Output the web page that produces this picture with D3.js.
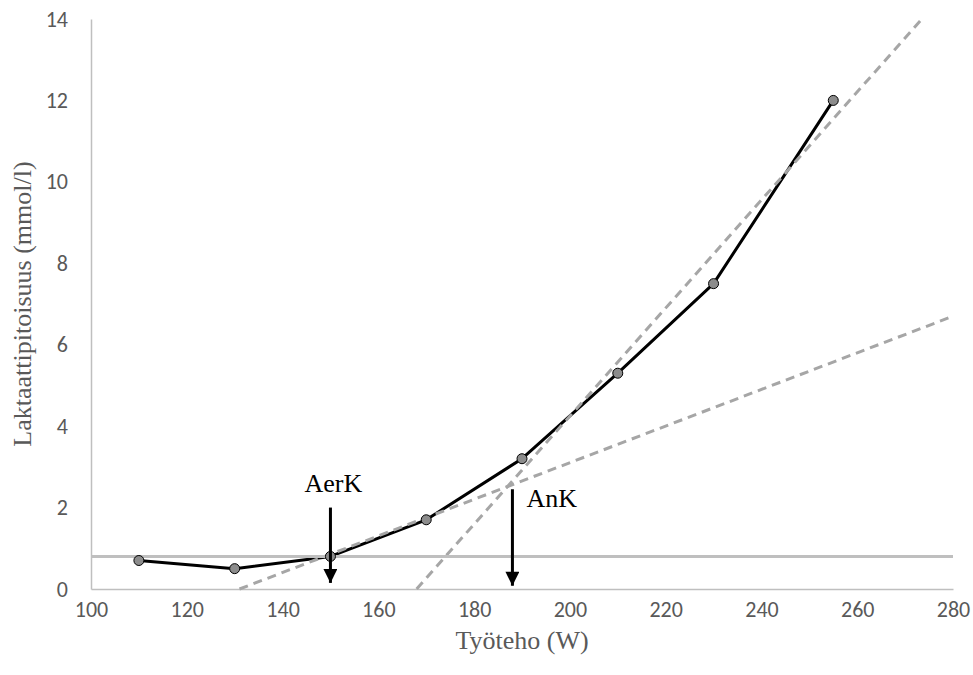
<!DOCTYPE html>
<html>
<head>
<meta charset="utf-8">
<script src="https://cdn.jsdelivr.net/npm/d3@7"></script>
<style>
body { margin: 0; background: #fff; }
svg { display: block; }
</style>
</head>
<body>
<script>
// measured lactate curve
var power = [110, 130, 150, 170, 190, 210, 230, 255];
var lactate = [0.7, 0.5, 0.8, 1.7, 3.2, 5.3, 7.5, 12];

// baseline level and the two fitted trend lines (endpoints)
var baseline = 0.8;
var aerLine = [[131, 0], [280, 6.7]];
var anLine = [[168, 0], [273.5, 14]];

// threshold arrows: x, top value, bottom value, label
var thresholds = [
    {name: 'AerK', x: 150, top: 2.0, bottom: 0.15},
    {name: 'AnK', x: 188, top: 2.45, bottom: 0.08}
];

var xTicks = [100, 120, 140, 160, 180, 200, 220, 240, 260, 280];
var yTicks = [0, 2, 4, 6, 8, 10, 12, 14];

var width = 973,
    height = 675;

var svg = d3.select('body').append('svg')
    .attr('width', width)
    .attr('height', height);

var x = d3.scaleLinear().domain([100, 280]).range([91, 953]);
var y = d3.scaleLinear().domain([0, 14]).range([589, 19]);

var gray = '#bfbfbf';
var textGray = '#595959';
var serif = '"Liberation Serif", "DejaVu Serif", serif';

// axes
var xAxis = svg.append('g')
    .attr('transform', 'translate(0,' + y(0) + ')')
    .call(d3.axisBottom(x).tickValues(xTicks).tickSize(0).tickPadding(12));
var yAxis = svg.append('g')
    .attr('transform', 'translate(' + x(100) + ',0)')
    .call(d3.axisLeft(y).tickValues(yTicks).tickSize(0).tickPadding(23));

[xAxis, yAxis].forEach(function (g) {
    g.select('.domain').attr('stroke', gray).attr('stroke-width', 1.5);
    g.selectAll('text')
        .attr('fill', textGray)
        .style('font-family', 'Carlito, "Open Sans", sans-serif')
        .style('font-size', '22px');
});

// axis titles
svg.append('text')
    .attr('x', (x(100) + x(280)) / 2)
    .attr('y', 649)
    .attr('text-anchor', 'middle')
    .attr('fill', textGray)
    .style('font-family', serif)
    .style('font-size', '26px')
    .text('Työteho (W)');

svg.append('text')
    .attr('transform', 'translate(31,' + 304 + ') rotate(-90)')
    .attr('text-anchor', 'middle')
    .attr('fill', textGray)
    .style('font-family', serif)
    .style('font-size', '26px')
    .text('Laktaattipitoisuus (mmol/l)');

var line = d3.line()
    .x(function (d) { return x(d[0]); })
    .y(function (d) { return y(d[1]); });

var pts = power.map(function (p, i) { return [p, lactate[i]]; });

// measured curve
svg.append('path')
    .attr('d', line(pts))
    .attr('fill', 'none')
    .attr('stroke', '#000')
    .attr('stroke-width', 3)
    .attr('stroke-linejoin', 'round');

// trend lines
[aerLine, anLine].forEach(function (l) {
    svg.append('path')
        .attr('d', line(l))
        .attr('fill', 'none')
        .attr('stroke', '#a6a6a6')
        .attr('stroke-width', 3)
        .attr('stroke-dasharray', '9,6');
});

// baseline
svg.append('line')
    .attr('x1', x(100)).attr('x2', x(280))
    .attr('y1', y(baseline)).attr('y2', y(baseline))
    .attr('stroke', gray)
    .attr('stroke-width', 3);

// markers
svg.selectAll('circle').data(pts).enter().append('circle')
    .attr('cx', function (d) { return x(d[0]); })
    .attr('cy', function (d) { return y(d[1]); })
    .attr('r', 5)
    .attr('fill', '#8c8c8c')
    .attr('stroke', '#000')
    .attr('stroke-width', 1);

// arrows
svg.append('defs').append('marker')
    .attr('id', 'head')
    .attr('viewBox', '0 0 10 10')
    .attr('refX', 10).attr('refY', 5)
    .attr('markerUnits', 'userSpaceOnUse')
    .attr('markerWidth', 16).attr('markerHeight', 14)
    .attr('orient', 'auto')
    .append('path')
    .attr('d', 'M0,0L10,5L0,10Z')
    .attr('fill', '#000');

thresholds.forEach(function (t) {
    svg.append('line')
        .attr('x1', x(t.x)).attr('x2', x(t.x))
        .attr('y1', y(t.top)).attr('y2', y(t.bottom))
        .attr('stroke', '#000')
        .attr('stroke-width', 3)
        .attr('marker-end', 'url(#head)');
});

svg.append('text')
    .attr('x', x(thresholds[0].x) + 3)
    .attr('y', 492)
    .attr('text-anchor', 'middle')
    .style('font-family', serif)
    .style('font-size', '26px')
    .text(thresholds[0].name);

svg.append('text')
    .attr('x', x(thresholds[1].x) + 14)
    .attr('y', 507)
    .style('font-family', serif)
    .style('font-size', '26px')
    .text(thresholds[1].name);
</script>
</body>
</html>
